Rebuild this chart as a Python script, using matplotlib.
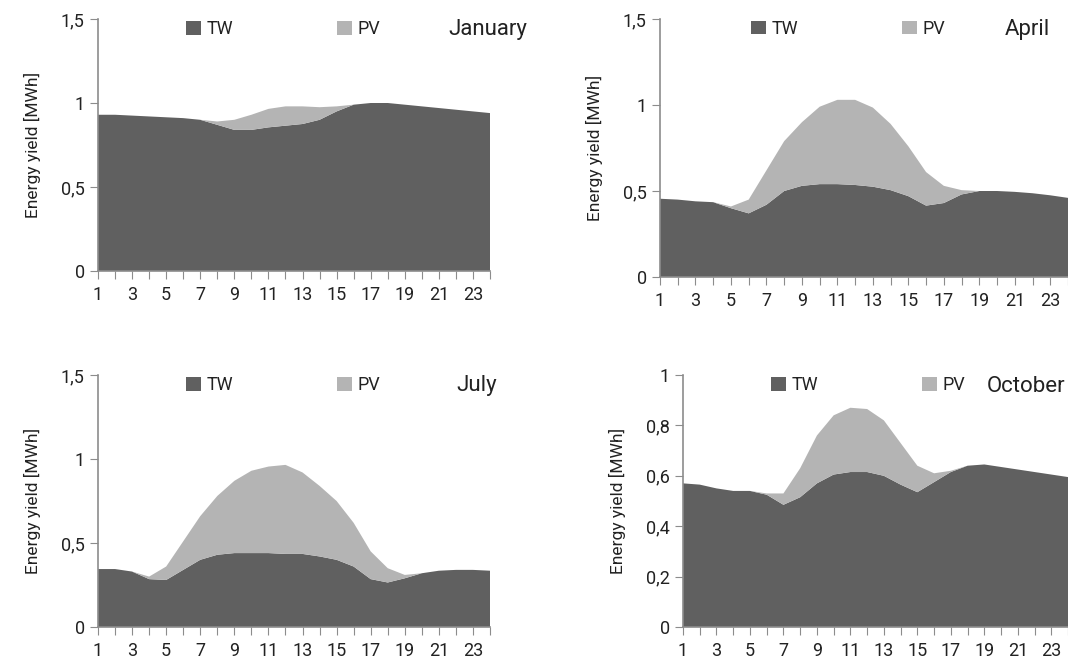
import matplotlib
matplotlib.use("Agg")
import matplotlib.pyplot as plt
import numpy as np

plt.rcParams['font.family'] = ['Roboto', 'DejaVu Sans']

hours = np.arange(1, 25)

jan_tw = [0.93, 0.93, 0.925, 0.92, 0.915, 0.91, 0.9, 0.87, 0.84, 0.84, 0.855, 0.865,
          0.875, 0.9, 0.95, 0.99, 1.0, 1.0, 0.99, 0.98, 0.97, 0.96, 0.95, 0.94]
jan_tot = [0.93, 0.93, 0.925, 0.92, 0.915, 0.91, 0.9, 0.89, 0.9, 0.93, 0.965, 0.98,
           0.98, 0.975, 0.98, 0.99, 1.0, 1.0, 0.99, 0.98, 0.97, 0.96, 0.95, 0.94]
apr_tw = [0.455, 0.45, 0.44, 0.435, 0.4, 0.37, 0.42, 0.5, 0.53, 0.54, 0.54, 0.535,
          0.525, 0.505, 0.47, 0.415, 0.43, 0.48, 0.5, 0.5, 0.495, 0.487, 0.475, 0.46]
apr_tot = [0.455, 0.45, 0.44, 0.435, 0.41, 0.45, 0.62, 0.79, 0.9, 0.99, 1.03, 1.03,
           0.985, 0.89, 0.76, 0.61, 0.53, 0.505, 0.5, 0.5, 0.495, 0.487, 0.475, 0.46]
jul_tw = [0.345, 0.345, 0.33, 0.285, 0.28, 0.34, 0.4, 0.43, 0.44, 0.44, 0.44, 0.435,
          0.435, 0.42, 0.4, 0.36, 0.285, 0.265, 0.29, 0.32, 0.335, 0.34, 0.34, 0.335]
jul_tot = [0.345, 0.345, 0.33, 0.3, 0.36, 0.51, 0.66, 0.78, 0.87, 0.93, 0.955, 0.965,
           0.92, 0.84, 0.75, 0.62, 0.45, 0.35, 0.31, 0.32, 0.335, 0.34, 0.34, 0.335]
oct_tw = [0.57, 0.565, 0.55, 0.54, 0.54, 0.525, 0.485, 0.515, 0.57, 0.605, 0.615, 0.615,
          0.6, 0.565, 0.535, 0.575, 0.615, 0.64, 0.645, 0.635, 0.625, 0.615, 0.605, 0.595]
oct_tot = [0.57, 0.565, 0.55, 0.54, 0.54, 0.53, 0.53, 0.63, 0.76, 0.84, 0.87, 0.865,
           0.82, 0.73, 0.64, 0.61, 0.62, 0.64, 0.645, 0.635, 0.625, 0.615, 0.605, 0.595]

months = ['January', 'April', 'July', 'October']
tw_data = [jan_tw, apr_tw, jul_tw, oct_tw]
tot_data = [jan_tot, apr_tot, jul_tot, oct_tot]
ymax = [1.5, 1.5, 1.5, 1.0]
ystep = [0.5, 0.5, 0.5, 0.2]

W, H = 1068, 667
# left, right, top, bottom in pixels
boxes = [(98, 490, 19, 271), (660, 1068, 19, 277), (98, 490, 375, 627), (683, 1068, 375, 627)]
title_pos = [(527, 30), (1050, 30), (497, 386), (1065, 386)]
legend_x = [170, 735, 170, 755]

c_tw = '#606060'
c_pv = '#b4b4b4'
spine = '#8c8c8c'
txt = '#222222'

fig = plt.figure(figsize=(W / 100, H / 100), dpi=100)
for i in range(4):
    l, r, t, b = boxes[i]
    ax = fig.add_axes([l / W, 1 - b / H, (r - l) / W, (b - t) / H])
    tw = np.array(tw_data[i])
    pv = np.maximum(np.array(tot_data[i]) - tw, 0)
    ax.stackplot(hours, tw, pv, colors=[c_tw, c_pv], labels=['TW', 'PV'], linewidth=0)
    ax.set_xlim(1, 24)
    ax.set_ylim(0, ymax[i])
    yt = np.arange(0, ymax[i] + 1e-9, ystep[i])
    ax.set_yticks(yt)
    ax.set_yticklabels([('%g' % v).replace('.', ',') for v in yt])
    ax.set_xticks(hours)
    ax.set_xticklabels([str(h) if h % 2 == 1 else '' for h in hours])
    for s in ['top', 'right']:
        ax.spines[s].set_visible(False)
    for s in ['left', 'bottom']:
        ax.spines[s].set_color(spine)
        ax.spines[s].set_linewidth(1.2)
    ax.tick_params(axis='x', direction='out', length=6, color=spine, labelsize=13,
                   labelcolor=txt, pad=5)
    ax.tick_params(axis='y', direction='out', length=6, color=spine, labelsize=13,
                   labelcolor=txt)
    ax.set_ylabel('Energy yield [MWh]', fontsize=12.5, labelpad=14, color=txt)
    fig.text(title_pos[i][0] / W, 1 - title_pos[i][1] / H, months[i],
             ha='right', va='center', fontsize=16, color=txt)
    ax.legend(loc='upper left', bbox_to_anchor=((legend_x[i] - l) / (r - l), 1.06),
              ncol=2, frameon=False, labelcolor=txt,
              fontsize=13, columnspacing=5.8, handlelength=0.8, handleheight=0.8,
              handletextpad=0.3)

fig.savefig('out.png', dpi=100)
